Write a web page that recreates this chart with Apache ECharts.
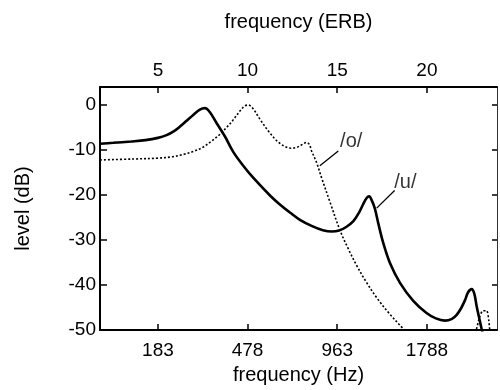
<!DOCTYPE html>
<html>
<head>
<meta charset="utf-8">
<script src="https://cdn.jsdelivr.net/npm/echarts@6/dist/echarts.min.js"></script>
<style>
html,body{margin:0;padding:0;background:#fff;}
#chart{width:500px;height:390px;}
</style>
</head>
<body>
<div id="chart"></div>
<script>
// x values are in ERB units, y values in dB
var erbTicks = [5, 10, 15, 20];
var erbLabels = ['5', '10', '15', '20'];
var hzLabels = ['183', '478', '963', '1788'];
var levelTicks = [-50, -40, -30, -20, -10, 0];

var vowelU = [
  [1.77,-8.6],[2.5,-8.4],[3.5,-8.1],[4.3,-7.8],[5.0,-7.3],[5.48,-6.7],[5.9,-5.8],[6.23,-4.8],
  [6.6,-3.5],[6.97,-2.2],[7.34,-1.0],
  [7.62,-0.7],[7.9,-1.6],[8.27,-4.0],[8.74,-7.0],[9.2,-10.4],[9.76,-13.5],[10.3,-16.1],
  [11.25,-20.1],[11.8,-22.1],[12.4,-24.0],[12.92,-25.5],[13.6,-26.9],[14.2,-27.8],
  [14.69,-28.1],[15.1,-27.9],[15.5,-27.1],[15.9,-25.8],[16.2,-24.0],[16.45,-22.0],[16.65,-20.6],
  [16.78,-20.3],[16.95,-21.4],[17.1,-23.0],[17.29,-26.3],[17.57,-30.7],[17.94,-35.1],
  [18.5,-39.5],[19.24,-43.5],[19.98,-46.2],[20.5,-47.4],[21.0,-47.9],
  [21.4,-47.5],[21.66,-46.6],[21.9,-45.2],[22.12,-43.4],[22.3,-41.6],[22.5,-40.9],[22.65,-42.0],
  [22.77,-44.6],[22.9,-47.0],[23.05,-49.7],[23.2,-52.0]
];
var vowelO = [
  [1.77,-12.2],[3.6,-12.0],[5.0,-11.8],[5.8,-11.5],[6.5,-10.9],[7.0,-10.3],[7.5,-9.4],[8.0,-8.0],[8.46,-6.5],
  [8.85,-4.9],[9.2,-3.3],[9.6,-1.2],[9.85,-0.2],[10.04,0.0],[10.3,-0.8],[10.7,-3.2],[11.2,-6.0],[11.7,-8.2],
  [12.18,-9.4],[12.46,-9.6],[12.74,-9.4],[13.0,-8.9],[13.3,-8.3],[13.45,-8.8],
  [13.57,-10.2],[13.85,-12.8],[14.13,-16.2],[14.6,-21.6],[15.15,-27.8],[15.6,-31.8],
  [16.08,-35.6],[16.6,-39.2],[17.2,-42.8],[17.9,-46.3],[18.68,-49.7],[18.9,-50.6]
];
var vowelOhigh = [
  [22.7,-50.6],[22.77,-49.7],[22.95,-47.0],[23.14,-45.7],[23.33,-45.7],[23.45,-47.8],[23.5,-49.7],[23.55,-50.6]
];
// annotation: label text position and leader line ends (ERB, dB)
var noteO = {text:'/o/', at:[15.78,-8.1], from:[14.03,-13.5], to:[15.06,-10.2]};
var noteU = {text:'/u/', at:[18.8,-17.2], from:[17.2,-22.9], to:[18.2,-19.0]};

var FONT = 'Liberation Sans, Arial, Helvetica, sans-serif';
var chart = echarts.init(document.getElementById('chart'), null, {renderer:'canvas'});

function leader(n){
  return {
    silent:true, symbol:['none','none'], animation:false,
    lineStyle:{type:'solid', color:'#000', width:1.3},
    label:{show:false},
    data:[[{coord:n.from},{coord:n.to}]]
  };
}

var option = {
  backgroundColor:'#fff',
  animation:false,
  grid:{left:100, right:3, top:87, bottom:57, containLabel:false},
  xAxis:[{
    type:'value', position:'bottom', min:1.77, max:23.91,
    name:'frequency (Hz)', nameLocation:'middle', nameGap:31,
    nameTextStyle:{fontFamily:FONT, fontSize:20, color:'#000'},
    axisLine:{show:true, onZero:false, lineStyle:{color:'#000', width:2}},
    axisTick:{show:true, inside:true, length:6, customValues:erbTicks, lineStyle:{color:'#000', width:1.5}},
    axisLabel:{show:true, margin:11, customValues:erbTicks, fontFamily:FONT, fontSize:19, color:'#000',
      formatter:function(v){ var i = erbTicks.indexOf(v); return i>=0 ? hzLabels[i] : ''; }},
    splitLine:{show:false}
  },{
    type:'value', position:'top', min:1.77, max:23.91,
    name:'frequency (ERB)', nameLocation:'middle', nameGap:55,
    nameTextStyle:{fontFamily:FONT, fontSize:20, color:'#000'},
    axisLine:{show:true, onZero:false, lineStyle:{color:'#000', width:2}},
    axisTick:{show:true, inside:true, length:6, customValues:erbTicks, lineStyle:{color:'#000', width:1.5}},
    axisLabel:{show:true, margin:7, customValues:erbTicks, fontFamily:FONT, fontSize:19, color:'#000',
      formatter:function(v){ var i = erbTicks.indexOf(v); return i>=0 ? erbLabels[i] : ''; }},
    splitLine:{show:false}
  }],
  yAxis:[{
    type:'value', position:'left', min:-50, max:4,
    name:'level (dB)', nameLocation:'middle', nameGap:67, nameRotate:90,
    nameTextStyle:{fontFamily:FONT, fontSize:20, color:'#000'},
    axisLine:{show:true, onZero:false, lineStyle:{color:'#000', width:2}},
    axisTick:{show:true, inside:true, length:7, customValues:levelTicks, lineStyle:{color:'#000', width:1.5}},
    axisLabel:{show:true, margin:4, customValues:levelTicks, fontFamily:FONT, fontSize:19, color:'#000'},
    splitLine:{show:false}
  },{
    type:'value', position:'right', min:-50, max:4,
    axisLine:{show:true, onZero:false, lineStyle:{color:'#333', width:1}},
    axisTick:{show:true, inside:true, length:5, customValues:levelTicks, lineStyle:{color:'#000', width:1.5}},
    axisLabel:{show:false},
    splitLine:{show:false}
  }],
  series:[{
    name:'/u/', type:'line', data:vowelU, xAxisIndex:0, yAxisIndex:0,
    showSymbol:false, smooth:0.35, clip:true,
    lineStyle:{color:'#000', width:2.6, type:'solid'},
    markLine:leader(noteU)
  },{
    name:'/o/', type:'line', data:vowelO, xAxisIndex:0, yAxisIndex:0,
    showSymbol:false, smooth:0.35, clip:true,
    lineStyle:{color:'#000', width:1.6, type:[2,2]},
    markLine:leader(noteO)
  },{
    name:'/o/ high', type:'line', data:vowelOhigh, xAxisIndex:0, yAxisIndex:0,
    showSymbol:false, smooth:0.3, clip:true,
    lineStyle:{color:'#000', width:1.6, type:[2,2]}
  },{
    name:'notes', type:'scatter', xAxisIndex:0, yAxisIndex:0, symbolSize:0, silent:true,
    data:[{value:noteO.at, label:{formatter:noteO.text}},{value:noteU.at, label:{formatter:noteU.text}}],
    label:{show:true, position:'inside', fontFamily:FONT, fontSize:20, color:'#000'}
  }]
};
chart.setOption(option);
</script>
</body>
</html>
